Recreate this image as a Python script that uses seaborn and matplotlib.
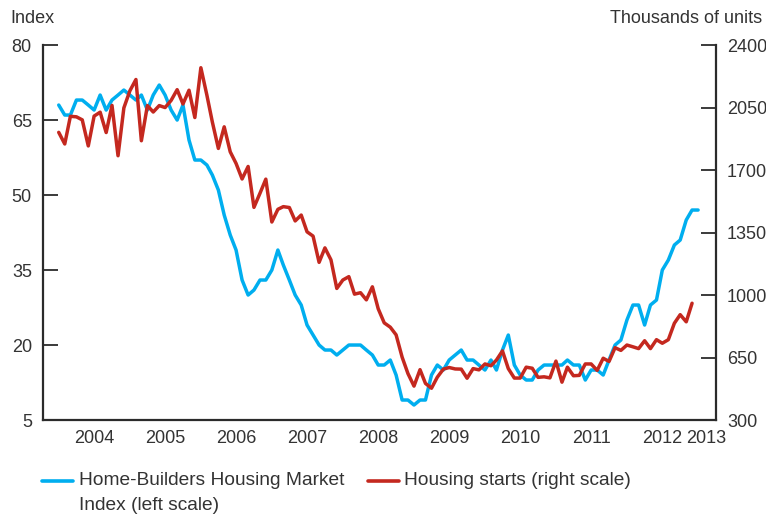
import pandas as pd
import seaborn as sns
import matplotlib.pyplot as plt
from matplotlib.lines import Line2D

# Home-Builders Housing Market Index, monthly Jan 2004 - Jan 2013 (left scale)
hmi = [68, 66, 66, 69, 69, 68, 67, 70, 67, 69, 70, 71,
       70, 69, 70, 67, 70, 72, 70, 67, 65, 68, 61, 57,
       57, 56, 54, 51, 46, 42, 39, 33, 30, 31, 33, 33,
       35, 39, 36, 33, 30, 28, 24, 22, 20, 19, 19, 18,
       19, 20, 20, 20, 19, 18, 16, 16, 17, 14, 9, 9,
       8, 9, 9, 14, 16, 15, 17, 18, 19, 17, 17, 16,
       15, 17, 15, 19, 22, 16, 14, 13, 13, 15, 16, 16,
       16, 16, 17, 16, 16, 13, 15, 15, 14, 17, 20, 21,
       25, 28, 28, 24, 28, 29, 35, 37, 40, 41, 45, 47,
       47]

# housing starts, thousands of units, monthly Jan 2004 - Dec 2012 (right scale)
starts = [1911, 1846, 2001, 1998, 1981, 1835, 2002, 2024, 1910, 2062, 1780, 2048,
          2144, 2207, 1864, 2061, 2025, 2061, 2050, 2090, 2150, 2070, 2147, 1994,
          2273, 2119, 1969, 1821, 1942, 1802, 1737, 1650, 1720, 1491, 1570, 1649,
          1409, 1480, 1495, 1490, 1415, 1448, 1354, 1330, 1183, 1264, 1197, 1037,
          1084, 1103, 1005, 1013, 973, 1046, 923, 844, 820, 777, 652, 560,
          490, 582, 505, 478, 540, 585, 594, 586, 585, 534, 588, 581,
          614, 604, 636, 687, 588, 535, 535, 596, 590, 539, 542, 536,
          630, 512, 596, 548, 550, 614, 614, 578, 646, 628, 705, 690,
          720, 710, 700, 744, 700, 750, 730, 750, 842, 890, 850, 954]

hmi_dates = pd.date_range("2004-01-01", periods=len(hmi), freq="MS")
starts_dates = pd.date_range("2004-01-01", periods=len(starts), freq="MS")

left_ticks = [5, 20, 35, 50, 65, 80]
right_ticks = [300, 650, 1000, 1350, 1700, 2050, 2400]
years = list(range(2004, 2014))

sns.set_style("white")
plt.rcParams["font.family"] = ["Liberation Sans", "DejaVu Sans"]

blue = "#00AEEF"
red = "#C4281F"
txt = "#333333"
axc = "#2b2b2b"
fs = 13
lfs = 13.8

fig = plt.figure(figsize=(7.66, 5.16), dpi=100)
ax = fig.add_axes([0.0561, 0.186, 0.8786, 0.7267])
ax2 = ax.twinx()

sns.lineplot(x=hmi_dates, y=hmi, ax=ax, color=blue, linewidth=2.5)
sns.lineplot(x=starts_dates, y=starts, ax=ax2, color=red, linewidth=2.5)

ax.set_xlim(pd.Timestamp("2003-10-12"), pd.Timestamp("2013-04-03"))
ax.set_ylim(5, 80)
ax2.set_ylim(300, 2400)
ax.set_ylabel("")
ax2.set_ylabel("")
ax.set_xlabel("")

# year boundaries as ticks, year labels in between
ax.set_xticks([pd.Timestamp(f"{y}-01-01") for y in years])
ax.set_xticklabels([])
label_pos = [pd.Timestamp(f"{y}-07-02") for y in years[:-1]] + [pd.Timestamp("2013-02-10")]
ax.set_xticks(label_pos, minor=True)
ax.set_xticklabels([str(y) for y in years], minor=True)
ax.tick_params(axis="x", which="major", direction="in", length=11, width=1.3, color=axc)
ax.tick_params(axis="x", which="minor", length=0, pad=7, labelsize=fs, labelcolor=txt)

ax.set_yticks(left_ticks)
ax.set_yticklabels([str(v) for v in left_ticks])
ax.tick_params(axis="y", direction="in", length=11, width=1.3, color=axc,
               pad=8, labelsize=fs, labelcolor=txt)
ax2.set_yticks(right_ticks)
ax2.set_yticklabels([str(v) for v in right_ticks])
ax2.tick_params(axis="y", direction="in", length=11, width=1.3, color=axc,
                pad=8, labelsize=fs, labelcolor=txt)

for s in ["top", "right"]:
    ax.spines[s].set_visible(False)
for s in ["top", "left", "bottom"]:
    ax2.spines[s].set_visible(False)
for s in ["left", "bottom"]:
    ax.spines[s].set_color(axc)
    ax.spines[s].set_linewidth(1.6)
ax2.spines["right"].set_color(axc)
ax2.spines["right"].set_linewidth(1.6)

fig.text(0.013, 0.965, "Index", fontsize=fs, color=txt, va="center", ha="left")
fig.text(0.995, 0.965, "Thousands of units", fontsize=fs, color=txt, va="center", ha="right")

# legend
fig.add_artist(Line2D([0.055, 0.095], [0.068, 0.068], transform=fig.transFigure,
                      color=blue, linewidth=2.6))
fig.text(0.103, 0.068, "Home-Builders Housing Market", fontsize=lfs, color=txt, va="center")
fig.text(0.103, 0.021, "Index (left scale)", fontsize=lfs, color=txt, va="center")
fig.add_artist(Line2D([0.481, 0.521], [0.068, 0.068], transform=fig.transFigure,
                      color=red, linewidth=2.6))
fig.text(0.528, 0.068, "Housing starts (right scale)", fontsize=lfs, color=txt, va="center")

fig.savefig("out.png", dpi=100)
